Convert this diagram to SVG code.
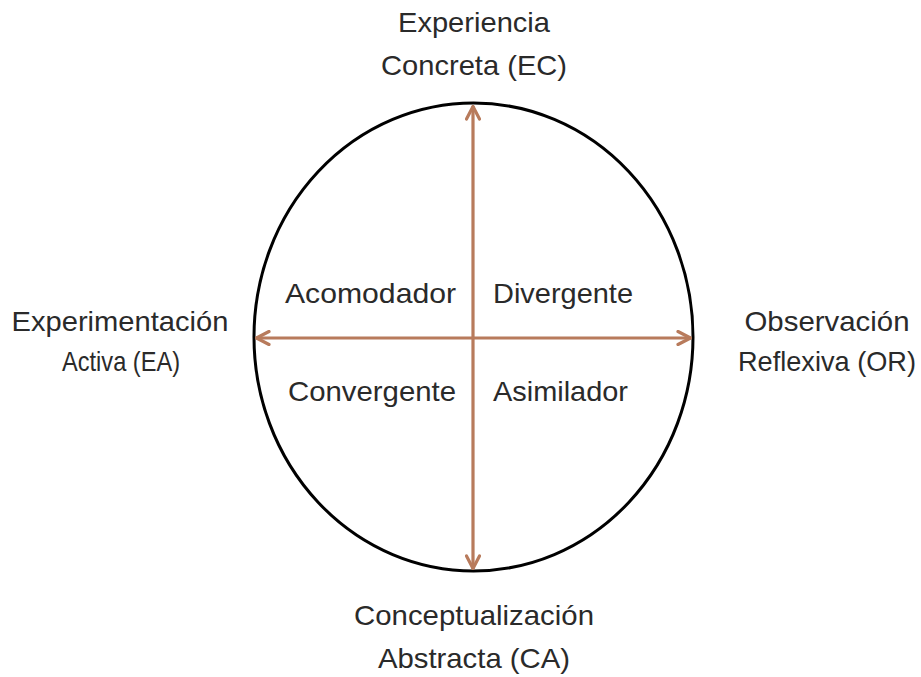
<svg xmlns="http://www.w3.org/2000/svg" width="921" height="677" viewBox="0 0 921 677">
<style>
text{font-family:"Liberation Sans",Arial,sans-serif;font-size:28px;fill:#2a2a2a;text-anchor:middle}
.ax{stroke:#b87b5c;stroke-width:3.2;fill:none}
</style>
<defs>
<marker id="ah" viewBox="0 0 16 16" refX="15" refY="8" markerWidth="16" markerHeight="16" markerUnits="userSpaceOnUse" orient="auto-start-reverse">
<path d="M2,1.5 L14.5,8 L2,14.5" fill="none" stroke="#b87b5c" stroke-width="3.2" stroke-linecap="round" stroke-linejoin="round"/>
</marker>
</defs>
<rect width="921" height="677" fill="#fff"/>
<g id="circle"><ellipse cx="473.5" cy="337" rx="219.5" ry="234" fill="none" stroke="#000" stroke-width="3"/></g>
<g id="connectors">
<line class="ax" x1="473" y1="106" x2="473" y2="569" marker-start="url(#ah)" marker-end="url(#ah)"/>
<line class="ax" x1="256" y1="338" x2="691" y2="338" marker-start="url(#ah)" marker-end="url(#ah)"/>
</g>
<g id="ec"><text x="474" y="32" textLength="152" lengthAdjust="spacingAndGlyphs">Experiencia</text><text x="474" y="75" textLength="186" lengthAdjust="spacingAndGlyphs">Concreta (EC)</text></g>
<g id="ea"><text x="120" y="331" textLength="217" lengthAdjust="spacingAndGlyphs">Experimentación</text><text x="121" y="371" textLength="118" lengthAdjust="spacingAndGlyphs">Activa (EA)</text></g>
<g id="or"><text x="827" y="331" textLength="165" lengthAdjust="spacingAndGlyphs">Observación</text><text x="827" y="371" textLength="178" lengthAdjust="spacingAndGlyphs">Reflexiva (OR)</text></g>
<g id="ca"><text x="474" y="625" textLength="240" lengthAdjust="spacingAndGlyphs">Conceptualización</text><text x="474" y="668" textLength="192" lengthAdjust="spacingAndGlyphs">Abstracta (CA)</text></g>
<g id="acomodador"><text x="370.5" y="303" textLength="171" lengthAdjust="spacingAndGlyphs">Acomodador</text></g>
<g id="divergente"><text x="563" y="303" textLength="140" lengthAdjust="spacingAndGlyphs">Divergente</text></g>
<g id="convergente"><text x="372" y="401" textLength="168" lengthAdjust="spacingAndGlyphs">Convergente</text></g>
<g id="asimilador"><text x="560.5" y="401" textLength="135" lengthAdjust="spacingAndGlyphs">Asimilador</text></g>
</svg>
